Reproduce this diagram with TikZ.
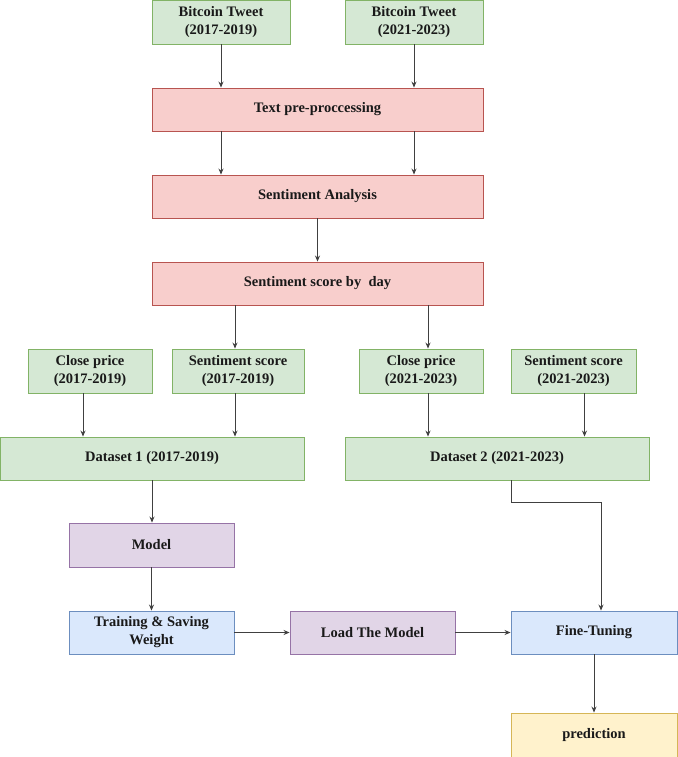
\documentclass[tikz,border=0pt]{standalone}
\usepackage{fontspec}
\setmainfont{Liberation Serif}
\usetikzlibrary{arrows.meta}
\definecolor{gfill}{HTML}{D5E8D4}\definecolor{gdraw}{HTML}{82B366}
\definecolor{rfill}{HTML}{F8CECC}\definecolor{rdraw}{HTML}{B85450}
\definecolor{pfill}{HTML}{E1D5E7}\definecolor{pdraw}{HTML}{9673A6}
\definecolor{bfill}{HTML}{DAE8FC}\definecolor{bdraw}{HTML}{6C8EBF}
\definecolor{yfill}{HTML}{FFF2CC}\definecolor{ydraw}{HTML}{D6B656}
\tikzset{
  box/.style={rectangle, inner sep=0pt, line width=0.9pt, align=center,
    font=\fontsize{14.5}{18}\selectfont\bfseries, text=black!90},
  gbox/.style={box, fill=gfill, draw=gdraw},
  rbox/.style={box, fill=rfill, draw=rdraw},
  pbox/.style={box, fill=pfill, draw=pdraw},
  bbox/.style={box, fill=bfill, draw=bdraw},
  ybox/.style={box, fill=yfill, draw=ydraw},
  arr/.style={draw=black!75, line width=0.8pt, -{Stealth[length=6pt,width=5pt]}},
}
\begin{document}
\begin{tikzpicture}[x=1pt,y=-1pt]
\useasboundingbox[fill=white] (0,0) rectangle (677,757);
\node[gbox, minimum width=138pt, minimum height=44pt] (bt1) at (221,22) {Bitcoin Tweet\\(2017-2019)};
\node[gbox, minimum width=138pt, minimum height=44pt] (bt2) at (414,22) {Bitcoin Tweet\\(2021-2023)};
\node[rbox, minimum width=331pt, minimum height=43pt] (tp) at (317.5,109.5) {Text pre-proccessing};
\node[rbox, minimum width=331pt, minimum height=43pt] (sa) at (317.5,196.5) {Sentiment Analysis};
\node[rbox, minimum width=331pt, minimum height=43pt] (ssd) at (317.5,283.5) {Sentiment score by~ day};
\node[gbox, minimum width=124pt, minimum height=44pt] (cp1) at (90,371) {Close price\\(2017-2019)};
\node[gbox, minimum width=132pt, minimum height=44pt] (ss1) at (238,371) {Sentiment score\\(2017-2019)};
\node[gbox, minimum width=124pt, minimum height=44pt] (cp2) at (421,371) {Close price\\(2021-2023)};
\node[gbox, minimum width=125pt, minimum height=44pt] (ss2) at (573.5,371) {Sentiment score\\(2021-2023)};
\node[gbox, minimum width=304pt, minimum height=43pt] (d1) at (152,458.5) {Dataset 1 (2017-2019)};
\node[gbox, minimum width=304pt, minimum height=43pt] (d2) at (497,458.5) {Dataset 2 (2021-2023)};
\node[pbox, minimum width=165pt, minimum height=44pt] (model) at (151.5,545) {Model};
\node[bbox, minimum width=165pt, minimum height=43pt] (train) at (151.5,632.5) {Training \& Saving\\Weight};
\node[pbox, minimum width=165pt, minimum height=43pt] (load) at (372.5,632.5) {Load The Model};
\node[bbox, minimum width=166pt, minimum height=43pt] (ft) at (594,632.5) {Fine-Tuning};
\node[ybox, minimum width=166pt, minimum height=44pt] (pred) at (594,735) {prediction};

\draw[arr] (bt1.south) -- (bt1.south |- tp.north);
\draw[arr] (bt2.south) -- (bt2.south |- tp.north);
\draw[arr] (bt1.south |- tp.south) -- (bt1.south |- sa.north);
\draw[arr] (bt2.south |- tp.south) -- (bt2.south |- sa.north);
\draw[arr] (sa.south) -- (ssd.north);
\draw[arr] ([xshift=-3pt]ss1.north |- ssd.south) -- ([xshift=-3pt]ss1.north);
\draw[arr] ([xshift=7pt]cp2.north |- ssd.south) -- ([xshift=7pt]cp2.north);
\draw[arr] ([xshift=-7pt]cp1.south) -- ([xshift=-7pt]cp1.south |- d1.north);
\draw[arr] ([xshift=-3pt]ss1.south) -- ([xshift=-3pt]ss1.south |- d1.north);
\draw[arr] ([xshift=7pt]cp2.south) -- ([xshift=7pt]cp2.south |- d2.north);
\draw[arr] ([xshift=11pt]ss2.south) -- ([xshift=11pt]ss2.south |- d2.north);
\draw[arr] (d1.south) -- (d1.south |- model.north);
\draw[arr] (model.south) -- (train.north);
\draw[arr] (train.east) -- (load.west);
\draw[arr] (load.east) -- (ft.west);
\draw[arr] ([xshift=14pt]d2.south) -- ++(0,22) -| ([xshift=7pt]ft.north);
\draw[arr] (ft.south) -- (pred.north);
\end{tikzpicture}
\end{document}
